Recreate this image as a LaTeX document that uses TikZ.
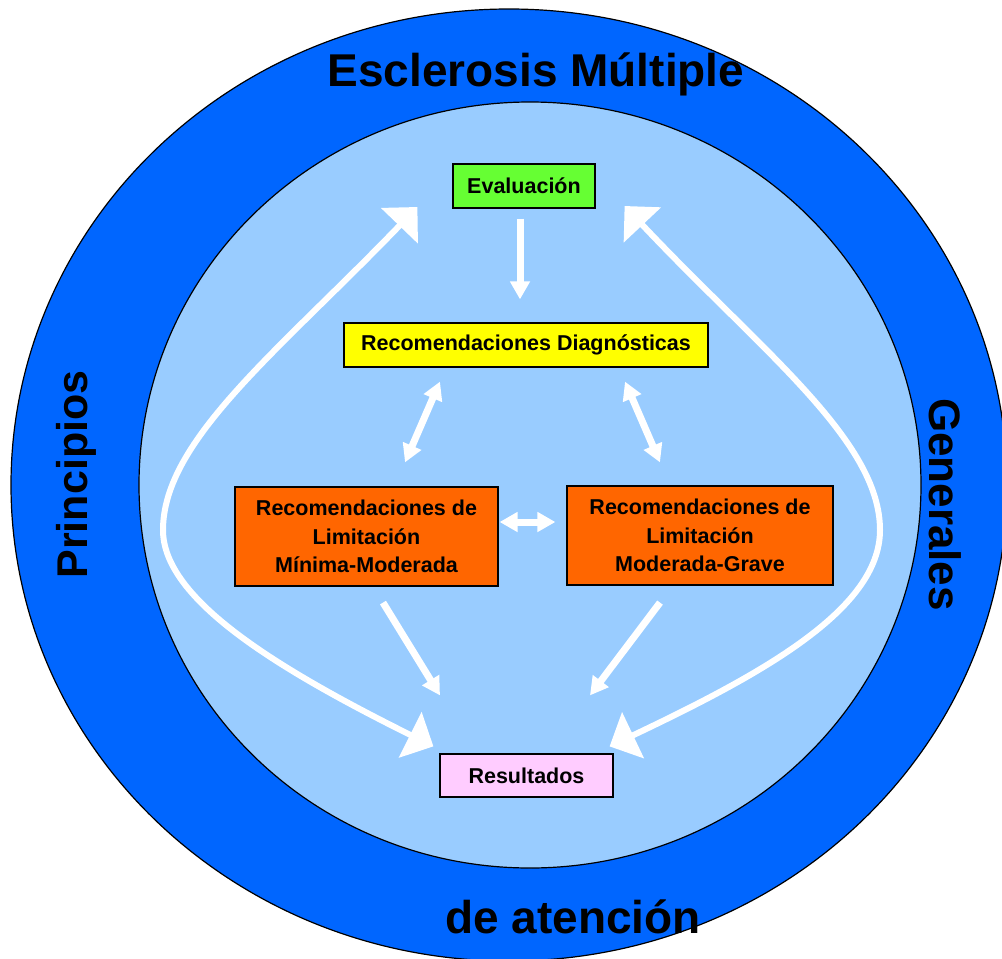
\documentclass[tikz,border=0pt]{standalone}
\usepackage{fontspec}
\setmainfont{Liberation Sans}
\usetikzlibrary{arrows.meta,calc}
\definecolor{outerblue}{HTML}{0066FF}
\definecolor{innerblue}{HTML}{99CCFF}
\definecolor{evalgreen}{HTML}{66FF33}
\definecolor{diagyellow}{HTML}{FFFF00}
\definecolor{limorange}{HTML}{FF6600}
\definecolor{respink}{HTML}{FFCCFF}
\begin{document}
\begin{tikzpicture}[x=1pt,y=-1pt,
  box/.style={draw=black,line width=1.2pt,inner sep=0pt,align=center,
    font=\fontsize{21.5}{28.5}\selectfont\bfseries},
  bigtext/.style={inner sep=0pt,anchor=base},
  smallarrow/.style={draw=white,line width=7pt,-{Triangle[length=18pt,width=19pt]}},
  dblarrow/.style={draw=white,line width=7pt,{Triangle[length=18pt,width=19pt]}-{Triangle[length=18pt,width=19pt]}},
  bigarrow/.style={draw=white,line width=6pt,{Triangle[length=26pt,width=50pt]}-{Triangle[length=26pt,width=50pt]}}]
\useasboundingbox (0,0) rectangle (1002,959);
\fill[white] (0,0) rectangle (1002,959);
% rings
\draw[line width=1.2pt,fill=outerblue] (509,485) ellipse [x radius=498pt, y radius=476pt];
\draw[line width=1.2pt,fill=innerblue] (530,485) ellipse [x radius=391pt, y radius=383pt];
% ring texts
\node[bigtext,font=\fontsize{46}{54}\selectfont\bfseries] (title) at (536,86) {Esclerosis Múltiple};
\node[bigtext,rotate=90,font=\fontsize{43}{52}\selectfont\bfseries] (princ) at (87,474.5) {Principios};
\node[bigtext,rotate=-90,font=\fontsize{44}{52}\selectfont\bfseries] (gen) at (929,504.5) {Generales};
\node[bigtext,font=\fontsize{46}{54}\selectfont\bfseries] (aten) at (573,933) {de atención};
% boxes
\node[box,fill=evalgreen,minimum width=142pt,minimum height=44pt] (eval) at (524,186) {Evaluación};
\node[box,fill=diagyellow,minimum width=364pt,minimum height=44pt] (diag) at (526,345) {Recomendaciones Diagnósticas};
\node[box,fill=limorange,minimum width=263pt,minimum height=99pt] (minmod) at (366.5,536.5) {Recomendaciones de\\Limitación\\Mínima-Moderada};
\node[box,fill=limorange,minimum width=266pt,minimum height=99pt] (modgrav) at (700,535.5) {Recomendaciones de\\Limitación\\Moderada-Grave};
\node[box,fill=respink,minimum width=173pt,minimum height=43pt] (res) at (526.5,775.5) {Resultados};
% small connectors
\draw[smallarrow] ($(eval.south)+(-4,10)$) -- ($(diag.north)+(-6,-23)$);
\draw[dblarrow] ($(diag.south)+(-86,14)$) -- ($(minmod.north)+(38.5,-24)$);
\draw[dblarrow] ($(diag.south)+(99,14)$) -- ($(modgrav.north)+(-40,-23)$);
\draw[dblarrow] ($(minmod.east)+(1,-14.5)$) -- ($(modgrav.west)+(-11,-13.5)$);
\draw[smallarrow] ($(minmod.south)+(16.5,16)$) -- ($(res.north)+(-86.5,-58)$);
\draw[smallarrow] ($(modgrav.south)+(-40,17)$) -- ($(res.north)+(63.5,-58)$);
% big loops
\coordinate (lt) at ($(eval.west)+(-35,21)$);
\coordinate (lb) at ($(res.north west)+(-6,-7)$);
\coordinate (rt) at ($(eval.east)+(29,20)$);
\coordinate (rb) at ($(res.north east)+(-4,-7)$);
\draw[bigarrow] (lt) .. controls (280,350) and (163,440) .. (163,530)
  .. controls (163,600) and (280,670) .. (lb);
\draw[bigarrow] (rt) .. controls (760,350) and (880,440) .. (880,530)
  .. controls (880,610) and (760,675) .. (rb);
\end{tikzpicture}
\end{document}
